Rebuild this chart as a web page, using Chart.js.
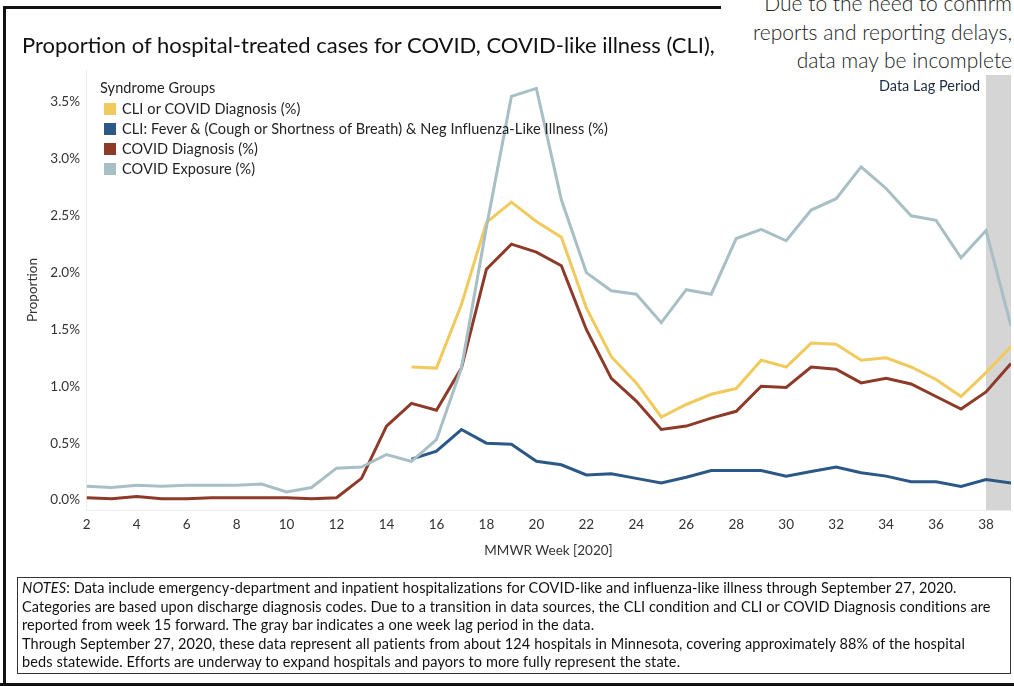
<!DOCTYPE html>
<html>
<head>
<meta charset="utf-8">
<title>Proportion of hospital-treated cases</title>
<script src="https://cdn.jsdelivr.net/npm/chart.js@4.4.0/dist/chart.umd.min.js"></script>
<style>
  body { margin: 0; background: #fff; font-family: Lato, "Open Sans", sans-serif; }
  #wrap { position: relative; width: 1014px; height: 686px; overflow: hidden; background: #fff; }
  #chart { position: absolute; left: 0; top: 0; }
  .rule { position: absolute; background: #111; }
  #title { position: absolute; left: 22px; top: 31px; font-size: 22px; color: #111; white-space: nowrap; }
  #lagNote { position: absolute; right: 2px; top: -11px; text-align: right; font-size: 21px;
             font-weight: 300; line-height: 28.5px; color: #222; white-space: nowrap; background: #fff; padding-left: 8px; }
  #legend { position: absolute; left: 100px; top: 79px; font-size: 14.5px; letter-spacing: 0.1px; color: #222; }
  #legend .head { height: 20px; line-height: 18px; }
  #legend .item { height: 20px; line-height: 20px; white-space: nowrap; }
  #legend .sw { display: inline-block; width: 12px; height: 12px; margin: 0 6px 0 4px; vertical-align: -1px; }
  #notes { position: absolute; left: 17px; top: 577px; width: 988px; height: 94px; border: 1px solid #333;
           font-size: 14.5px; letter-spacing: 0.1px; line-height: 18.6px; color: #111; padding: 1px 0 0 4px;
           white-space: nowrap; overflow: hidden; }
</style>
</head>
<body>
<div id="wrap">
  <canvas id="chart" width="1014" height="686"></canvas>
  <div class="rule" style="left:3px; top:6px; width:718px; height:3px;"></div>
  <div class="rule" style="left:3px; top:6px; width:3px; height:680px;"></div>
  <div class="rule" style="left:0; top:683px; width:1014px; height:3px;"></div>
  <div id="title">Proportion of hospital-treated cases for COVID, COVID-like illness (CLI),</div>
  <div id="lagNote">Due to the need to confirm<br>reports and reporting delays,<br>data may be incomplete</div>
  <div id="legend"></div>
  <div id="notes"><i>NOTES</i>: Data include emergency-department and inpatient hospitalizations for COVID-like and influenza-like illness through September 27, 2020.<br>
Categories are based upon discharge diagnosis codes. Due to a transition in data sources, the CLI condition and CLI or COVID Diagnosis conditions are<br>
reported from week 15 forward. The gray bar indicates a one week lag period in the data.<br>
Through September 27, 2020, these data represent all patients from about 124 hospitals in Minnesota, covering approximately 88% of the hospital<br>
beds statewide. Efforts are underway to expand hospitals and payors to more fully represent the state.</div>
</div>
<script>
// MMWR weeks 2..39 of 2020
const weeks = [2, 3, 4, 5, 6, 7, 8, 9, 10, 11, 12, 13, 14, 15, 16, 17, 18, 19, 20,
               21, 22, 23, 24, 25, 26, 27, 28, 29, 30, 31, 32, 33, 34, 35, 36, 37, 38, 39];

// percent of hospital-treated cases, one value per week (null = not reported)
const cliOrCovid = [null, null, null, null, null, null, null, null, null, null, null, null, null,
  1.17, 1.16, 1.72, 2.44, 2.62, 2.45, 2.31, 1.69, 1.26, 1.03, 0.73, 0.84, 0.93, 0.98,
  1.23, 1.17, 1.38, 1.37, 1.23, 1.25, 1.17, 1.06, 0.91, 1.12, 1.35];
const cliFever = [null, null, null, null, null, null, null, null, null, null, null, null, null,
  0.36, 0.43, 0.62, 0.50, 0.49, 0.34, 0.31, 0.22, 0.23, 0.19, 0.15, 0.20, 0.26, 0.26,
  0.26, 0.21, 0.25, 0.29, 0.24, 0.21, 0.16, 0.16, 0.12, 0.18, 0.15];
const covidDiagnosis = [0.02, 0.01, 0.03, 0.01, 0.01, 0.02, 0.02, 0.02, 0.02, 0.01, 0.02, 0.19, 0.65,
  0.85, 0.79, 1.16, 2.03, 2.25, 2.18, 2.06, 1.50, 1.07, 0.87, 0.62, 0.65, 0.72, 0.78,
  1.00, 0.99, 1.17, 1.15, 1.03, 1.07, 1.02, 0.91, 0.80, 0.95, 1.20];
const covidExposure = [0.12, 0.11, 0.13, 0.12, 0.13, 0.13, 0.13, 0.14, 0.07, 0.11, 0.28, 0.29, 0.40,
  0.34, 0.53, 1.16, 2.40, 3.55, 3.62, 2.64, 2.00, 1.84, 1.81, 1.56, 1.85, 1.81, 2.30,
  2.38, 2.28, 2.55, 2.65, 2.93, 2.74, 2.50, 2.46, 2.13, 2.37, 1.53];

const seriesNames = ['CLI or COVID Diagnosis (%)',
  'CLI: Fever & (Cough or Shortness of Breath) & Neg Influenza-Like Illness (%)',
  'COVID Diagnosis (%)', 'COVID Exposure (%)'];
const seriesColors = ['#f1ca5e', '#2b5886', '#8e3a29', '#a8bfc5'];

const xTicks = [2, 4, 6, 8, 10, 12, 14, 16, 18, 20, 22, 24, 26, 28, 30, 32, 34, 36, 38];
const yTicks = [0, 0.5, 1.0, 1.5, 2.0, 2.5, 3.0, 3.5];
const lagStartWeek = 38;

const toPoints = vals => weeks.map((w, i) => ({ x: w, y: vals[i] }));

// gray band over the last (lagged) week plus its caption
const lagBand = {
  id: 'lagBand',
  beforeDatasetsDraw(chart) {
    const { ctx, chartArea, scales } = chart;
    const x0 = scales.x.getPixelForValue(lagStartWeek);
    ctx.save();
    ctx.fillStyle = '#d5d5d5';
    ctx.fillRect(x0, chartArea.top, chartArea.right - x0, chartArea.bottom - chartArea.top);
    ctx.fillStyle = '#1d2b44';
    ctx.font = '14.5px Lato, "Open Sans", sans-serif';
    ctx.textAlign = 'right';
    ctx.textBaseline = 'middle';
    ctx.fillText('Data Lag Period', x0 - 6, chartArea.top + 16);
    ctx.restore();
  }
};

const allSeries = [cliOrCovid, cliFever, covidDiagnosis, covidExposure];
const drawOrder = [3, 1, 2, 0];

const chart = new Chart(document.getElementById('chart'), {
  type: 'line',
  data: {
    datasets: allSeries.map((vals, i) => ({
      label: seriesNames[i],
      data: toPoints(vals),
      borderColor: seriesColors[i],
      backgroundColor: seriesColors[i],
      borderWidth: 3,
      pointRadius: 0,
      tension: 0,
      spanGaps: false,
      order: drawOrder[i]
    }))
  },
  options: {
    responsive: false,
    animation: false,
    layout: { padding: { left: 0, top: 70, right: 3, bottom: 126 } },
    plugins: { legend: { display: false }, tooltip: { enabled: false } },
    scales: {
      x: {
        type: 'linear',
        min: 1.97,
        max: 39,
        afterBuildTicks: s => { s.ticks = xTicks.map(v => ({ value: v })); },
        afterFit: s => { s.height = 50; },
        grid: { display: false, drawTicks: false },
        border: { color: '#ececec' },
        ticks: { padding: 7, color: '#333', font: { family: 'Lato', size: 13.5 }, maxRotation: 0 },
        title: { display: true, text: 'MMWR Week [2020]', color: '#333',
                 font: { family: 'Lato', size: 13.5 }, padding: { top: 4, bottom: 1 } }
      },
      y: {
        min: -0.088,
        max: 3.782,
        afterBuildTicks: s => { s.ticks = yTicks.map(v => ({ value: v })); },
        afterFit: s => { s.width = 86; },
        grid: { display: false, drawTicks: false },
        border: { color: '#ececec' },
        ticks: { padding: 6, color: '#333', font: { family: 'Lato', size: 13.5 },
                 callback: v => v.toFixed(1) + '%' },
        title: { display: true, text: 'Proportion', color: '#333',
                 font: { family: 'Lato', size: 13.5 }, padding: { top: 25, bottom: 0 } }
      }
    }
  },
  plugins: [lagBand]
});

// legend in series order, built from the chart's datasets
const legend = document.getElementById('legend');
legend.innerHTML = '<div class="head">Syndrome Groups</div>' +
  chart.data.datasets.map(d =>
    '<div class="item"><span class="sw" style="background:' + d.borderColor + '"></span>' +
    d.label.replace(/&/g, '&amp;') + '</div>').join('');
</script>
</body>
</html>
